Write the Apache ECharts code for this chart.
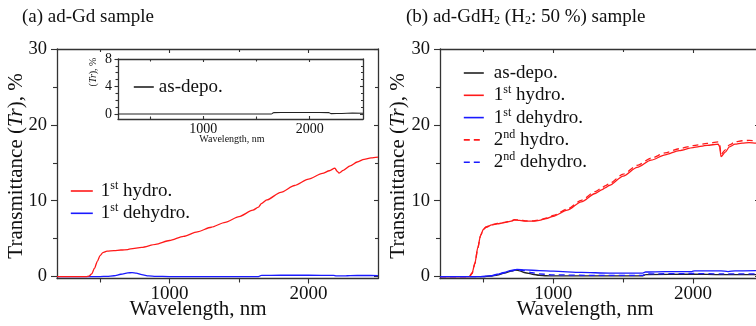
<!DOCTYPE html>
<html>
<head>
<meta charset="utf-8">
<script src="https://cdn.jsdelivr.net/npm/echarts@6/dist/echarts.min.js"></script>
<style>
  html, body { margin: 0; padding: 0; background: #fff; }
  #chart { width: 756px; height: 326px; }
</style>
</head>
<body>
<div id="chart"></div>
<script>
// ---------- data: wavelength (nm) and transmittance (%) ----------
// (a) ad-Gd sample
const aHydro1Wave = [190, 400, 420, 440, 460, 480, 500, 520, 550, 600, 650, 700, 720, 800, 900, 1000, 1100, 1200, 1300, 1400, 1500, 1600, 1640, 1660, 1700, 1800, 1900, 2000, 2100, 2150, 2190, 2205, 2220, 2250, 2300, 2350, 2400, 2450, 2500];
const aHydro1Tr   = [0, 0, 0.05, 0.35, 1.1, 2.0, 2.75, 3.15, 3.35, 3.42, 3.5, 3.55, 3.65, 3.85, 4.25, 4.75, 5.3, 5.9, 6.5, 7.15, 7.9, 8.75, 9.15, 9.6, 10.1, 11.1, 12.0, 12.85, 13.6, 13.95, 14.3, 13.9, 13.65, 14.0, 14.6, 15.1, 15.45, 15.65, 15.75];

const aDehydro1Wave = [190, 500, 550, 600, 650, 700, 730, 760, 800, 850, 900, 1000, 1640, 1660, 1800, 2000, 2180, 2200, 2260, 2300, 2400, 2500];
const aDehydro1Tr   = [0, 0, 0.02, 0.1, 0.3, 0.48, 0.52, 0.45, 0.25, 0.08, 0.02, 0, 0, 0.15, 0.17, 0.17, 0.16, 0.08, 0.08, 0.13, 0.14, 0.12];

// (a) inset: as-deposited film
const aDepoWave = [200, 1000, 1640, 1660, 1800, 2000, 2180, 2200, 2300, 2400, 2500];
const aDepoTr   = [0, 0, 0, 0.2, 0.22, 0.22, 0.2, 0.05, 0.08, 0.12, 0.1];

// (b) ad-GdH2 (H2: 50 %) sample
const bHydroWave = [190, 400, 420, 440, 460, 480, 500, 520, 560, 600, 650, 700, 720, 760, 800, 860, 900, 950, 1000, 1100, 1200, 1300, 1350, 1370, 1400, 1500, 1600, 1700, 1800, 1900, 2000, 2100, 2180, 2190, 2200, 2230, 2260, 2300, 2350, 2400, 2450, 2500];
const bHydro1Tr  = [0, 0, 0.5, 1.8, 3.8, 5.4, 6.2, 6.5, 6.8, 6.95, 7.1, 7.3, 7.45, 7.4, 7.3, 7.3, 7.4, 7.65, 7.95, 8.75, 9.85, 10.95, 11.45, 11.7, 12.0, 13.25, 14.4, 15.35, 16.05, 16.6, 17.0, 17.3, 17.45, 17.1, 15.8, 16.4, 17.1, 17.45, 17.6, 17.65, 17.6, 17.55];
const bHydro2Tr  = [0, 0, 0.4, 1.7, 3.7, 5.4, 6.25, 6.55, 6.85, 7.0, 7.15, 7.35, 7.5, 7.45, 7.35, 7.35, 7.45, 7.7, 8.05, 8.9, 10.05, 11.2, 11.7, 11.95, 12.25, 13.5, 14.65, 15.6, 16.3, 16.85, 17.25, 17.55, 17.75, 17.4, 16.1, 16.7, 17.35, 17.75, 17.9, 17.95, 17.9, 17.85];

const bDepoWave = [190, 500, 550, 600, 650, 700, 730, 760, 800, 850, 900, 950, 1000, 1640, 1660, 2000, 2200, 2500];
const bDepoTr   = [0, 0, 0.05, 0.2, 0.45, 0.72, 0.85, 0.75, 0.5, 0.3, 0.17, 0.1, 0.08, 0.08, 0.25, 0.3, 0.25, 0.25];

const bDehydro1Wave = [190, 480, 550, 600, 650, 700, 740, 800, 900, 1000, 1200, 1400, 1640, 1660, 1800, 1990, 2010, 2200, 2250, 2300, 2500];
const bDehydro1Tr   = [0, 0, 0.1, 0.3, 0.55, 0.8, 0.93, 0.88, 0.78, 0.7, 0.55, 0.45, 0.45, 0.6, 0.65, 0.65, 0.75, 0.75, 0.65, 0.75, 0.8];

const bDehydro2Wave = [190, 500, 550, 600, 650, 700, 740, 780, 850, 900, 1000, 1300, 1640, 1660, 2000, 2200, 2500];
const bDehydro2Tr   = [0, 0, 0.08, 0.25, 0.5, 0.75, 0.9, 0.8, 0.5, 0.35, 0.22, 0.15, 0.15, 0.35, 0.4, 0.35, 0.35];

// tick values
const mainTrLabels = [0, 10, 20, 30];
const mainTrMinor  = [5, 15, 25];
const waveLabels   = [1000, 2000];
const waveMinor    = [500, 1500];
const insetTrLabels = [0, 4, 8];
const insetTrMinor  = [1, 2, 3, 5, 6, 7];

// ---------- styling ----------
const FONT = '"Liberation Serif", "Times New Roman", serif';
const AXIS_COLOR = '#333';
const TEXT_COLOR = '#111';
const RED = '#ff1a1a';
const BLUE = '#1a1aff';

function pairs(xs, ys) { return xs.map((x, i) => [x, ys[i]]); }

// one visible axis (line, major ticks, labels) plus one tick-only axis for minor ticks
function axisPair(gridIndex, position, range, major, minor, o) {
  const base = {
    type: 'value', gridIndex: gridIndex, position: position,
    min: range[0], max: range[1], splitLine: { show: false }
  };
  const tickLine = { color: AXIS_COLOR, width: 1.1 };
  const main = Object.assign({}, base, {
    axisLine: { show: true, onZero: false, lineStyle: { color: AXIS_COLOR, width: 1.3 } },
    axisTick: { show: major.length > 0, customValues: major, length: o.majorLen, inside: o.inside, lineStyle: tickLine },
    axisLabel: o.labels
      ? { show: true, customValues: o.labels, formatter: v => String(v), fontSize: o.labelSize, fontFamily: FONT, color: TEXT_COLOR, margin: o.labelMargin }
      : { show: false }
  });
  const sub = Object.assign({}, base, {
    axisLine: { show: false, onZero: false },
    axisLabel: { show: false },
    axisTick: { show: minor.length > 0, customValues: minor, length: o.minorLen, inside: o.inside, lineStyle: tickLine }
  });
  return [main, sub];
}

const xAxes = [], yAxes = [];
function frame(gridIndex, xRange, yRange, cfg) {
  const xBase = xAxes.length, yBase = yAxes.length;
  xAxes.push(...axisPair(gridIndex, 'bottom', xRange, cfg.xMajor, cfg.xMinor, cfg.bottom));
  xAxes.push(...axisPair(gridIndex, 'top', xRange, cfg.xMajor, cfg.xMinor, cfg.top));
  yAxes.push(...axisPair(gridIndex, 'left', yRange, cfg.yMajor, cfg.yMinor, cfg.left));
  yAxes.push(...axisPair(gridIndex, 'right', yRange, cfg.yMajor, cfg.yMinor, cfg.right));
  return { x: xBase, y: yBase };
}

const mainFrame = (rightLen, rightMinorLen) => ({
  xMajor: waveLabels, xMinor: waveMinor,
  yMajor: mainTrLabels, yMinor: mainTrMinor,
  bottom: { majorLen: 5, minorLen: 4, inside: false, labels: waveLabels, labelSize: 19, labelMargin: 6 },
  top:    { majorLen: 4, minorLen: 3, inside: true },
  left:   { majorLen: 6, minorLen: 4, inside: false, labels: mainTrLabels, labelSize: 18.5, labelMargin: 10 },
  right:  { majorLen: rightLen, minorLen: rightMinorLen, inside: true }
});

const gridA = { left: 57, top: 49, width: 321, height: 229.5, outerBoundsMode: 'none' };
const gridInset = { left: 118, top: 59, width: 245, height: 60, outerBoundsMode: 'none' };
const gridB = { left: 440, top: 49, width: 323, height: 229.5, outerBoundsMode: 'none' };

const trRange = [-0.26, 30];
const waveRange = [190, 2500];

const axA = frame(0, waveRange, trRange, mainFrame(4, 3));
const axInset = frame(1, [200, 2500], [-0.73, 8], {
  xMajor: waveLabels, xMinor: waveMinor,
  yMajor: insetTrLabels, yMinor: insetTrMinor,
  bottom: { majorLen: 3, minorLen: 2.5, inside: true, labels: waveLabels, labelSize: 14, labelMargin: 3 },
  top:    { majorLen: 3, minorLen: 2.5, inside: true },
  left:   { majorLen: 3.5, minorLen: 2.5, inside: false, labels: insetTrLabels, labelSize: 14, labelMargin: 6 },
  right:  { majorLen: 3, minorLen: 2, inside: true }
});
const axB = frame(2, waveRange, trRange, mainFrame(8, 5));

function line(name, ax, xs, ys, color, dashed, width) {
  return {
    type: 'line', name: name,
    xAxisIndex: ax.x, yAxisIndex: ax.y,
    data: pairs(xs, ys),
    symbol: 'none', showSymbol: false,
    smooth: 0.25, smoothMonotone: 'x',
    lineStyle: { color: color, width: width || 1.3, type: dashed ? [6, 4] : 'solid' },
    itemStyle: { color: color },
    animation: false
  };
}

const series = [
  line('1st dehydro.', axA, aDehydro1Wave, aDehydro1Tr, BLUE),
  line('1st hydro.', axA, aHydro1Wave, aHydro1Tr, RED),
  line('as-depo.', axInset, aDepoWave, aDepoTr, '#222', false, 1.1),
  line('as-depo.', axB, bDepoWave, bDepoTr, '#222'),
  line('1st hydro.', axB, bHydroWave, bHydro1Tr, RED),
  line('2nd hydro.', axB, bHydroWave, bHydro2Tr, RED, true),
  line('2nd dehydro.', axB, bDehydro2Wave, bDehydro2Tr, BLUE, true),
  line('1st dehydro.', axB, bDehydro1Wave, bDehydro1Tr, BLUE)
];

const ordinal = name => name.replace(/^(\d)(st|nd|rd|th)/, '$1{sup|$2}');
function legend(names, left, top, w, textShift) {
  return {
    data: names, left: left, top: top, orient: 'vertical',
    itemWidth: w, itemHeight: 12, itemGap: 0.3, padding: 0,
    selectedMode: false, formatter: ordinal,
    textStyle: {
      fontSize: 19, fontFamily: FONT, color: TEXT_COLOR, lineHeight: 22,
      padding: [0, 0, 0, textShift],
      rich: { sup: { fontSize: 12, fontFamily: FONT, color: TEXT_COLOR, verticalAlign: 'top', lineHeight: 12 } }
    },
    // legend sample is the plain line only
    itemStyle: { opacity: 0, color: 'transparent', borderWidth: 0 },
    lineStyle: { width: 1.6 }
  };
}

function label(text, x, y, size, opts) {
  opts = opts || {};
  return {
    type: 'text', x: x, y: y, rotation: opts.rotation || 0, silent: true,
    style: {
      text: text, fill: TEXT_COLOR, fontSize: size, fontFamily: FONT,
      align: opts.align || 'center', textAlign: opts.align || 'center',
      verticalAlign: 'middle', textVerticalAlign: 'middle',
      rich: {
        i: { fontStyle: 'italic', fontSize: size, fontFamily: FONT, fill: TEXT_COLOR, color: TEXT_COLOR },
        sub: { fontSize: Math.round(size * 0.65), fontFamily: FONT, fill: TEXT_COLOR, color: TEXT_COLOR, verticalAlign: 'bottom', lineHeight: 12 }
      }
    }
  };
}

const option = {
  backgroundColor: '#fff',
  animation: false,
  grid: [gridA, gridInset, gridB],
  xAxis: xAxes,
  yAxis: yAxes,
  series: series,
  legend: [
    legend(['1st hydro.', '1st dehydro.'], 70, 180, 22, 3),
    legend(['as-depo.'], 133, 76, 20, 0),
    legend(['as-depo.', '1st hydro.', '1st dehydro.', '2nd hydro.', '2nd dehydro.'], 463, 62, 20, 5)
  ],
  graphic: [
    label('(a) ad-Gd sample', 22, 17, 19, { align: 'left' }),
    label('(b) ad-GdH{sub|2} (H{sub|2}: 50 %) sample', 406, 17, 19, { align: 'left' }),
    label('Transmittance ({i|Tr}), %', 16, 166, 21, { rotation: Math.PI / 2 }),
    label('Transmittance ({i|Tr}), %', 398, 166, 21, { rotation: Math.PI / 2 }),
    label('Wavelength, nm', 198, 309, 21),
    label('Wavelength, nm', 585, 309, 21),
    label('({i|Tr}), %', 93, 72, 10, { rotation: Math.PI / 2 }),
    label('Wavelength, nm', 232, 139, 10)
  ]
};

const chart = echarts.init(document.getElementById('chart'), null, { renderer: 'canvas' });
chart.setOption(option);
</script>
</body>
</html>
